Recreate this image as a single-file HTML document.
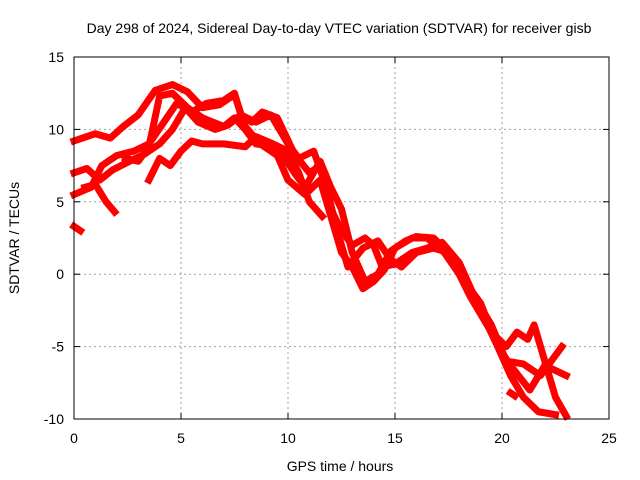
<!DOCTYPE html>
<html><head><meta charset="utf-8"><style>
body{margin:0;background:#fff}
svg{display:block;font-family:"Liberation Sans",sans-serif}
</style></head><body>
<svg id="c" width="640" height="480">
<rect width="640" height="480" fill="#fff"/>
<g id="grid"></g><g id="marks"></g><g id="axes"></g>
<text x="339" y="33" font-size="14" text-anchor="middle">Day 298 of 2024, Sidereal Day-to-day VTEC variation (SDTVAR) for receiver gisb</text>
<text x="340" y="471" font-size="14" text-anchor="middle">GPS time / hours</text>
<text transform="translate(19,238) rotate(-90)" font-size="14" text-anchor="middle">SDTVAR / TECUs</text>
</svg>
<script>
const xTicks=[0,5,10,15,20,25];
const yTicks=[-10,-5,0,5,10,15];
const track1=[[0,9.2],[1,9.7],[1.7,9.4],[2.3,10.2],[3,11],[3.8,12.7],[4.6,13.1],[5.3,12.6],[6,11.5],[6.8,11.7],[7.5,12.4],[8,10.2],[8.7,9],[9.5,8.2],[10,6.5],[10.8,5.5],[11.5,6.5],[12,4],[12.5,1.5],[13,0.5],[13.5,-1],[14,-0.5],[14.5,0.3],[15,1.8],[15.8,2.5],[16.5,2.5],[17.3,1.5],[18,0],[19,-2],[19.8,-5],[20.4,-7],[21,-8.5],[21.7,-9.5],[22.5,-9.7]];
const track2=[[0,5.5],[0.8,6],[1.3,7.5],[2,8.2],[2.8,8.5],[3.5,9],[4.2,10.5],[4.8,11.8],[5.5,11.2],[6.2,11.8],[7,12],[7.5,12.5],[7.8,11],[8.5,10.5],[9.2,11],[10,9],[10.5,8],[11.2,8.5],[11.8,6],[12.3,3],[12.8,0.5],[13.5,1.8],[14.2,2.3],[14.8,1],[15.3,0.5],[16,1.5],[16.8,1.8],[17.5,1.5],[18.5,-1],[19.5,-3.5],[20.2,-6],[21,-6.2],[21.8,-7],[22.8,-5]];
const track3=[[0,7],[0.6,7.3],[1.2,6.5],[1.8,7.2],[2.6,7.8],[3.3,8.3],[4,9],[4.6,10],[5.2,11.5],[5.8,10.5],[6.6,10],[7.2,10.3],[7.8,11],[8.3,10.5],[8.8,11.2],[9.5,10.8],[10.3,8.3],[11,7],[11.5,7.5],[12,4.5],[12.5,3],[13,2],[13.6,2.5],[14,2],[14.4,0.5],[15,0.7],[15.8,1.5],[16.5,1.8],[17.2,2.2],[18,0.8],[19,-2.5],[19.8,-5],[20.5,-6.5],[21.3,-8],[22,-6.3],[23,-7]];
const track4=[[2.4,8],[3,7.8],[3.5,8.8],[4,12.3],[4.6,12.5],[5.3,11.5],[6,10.8],[7,10.2],[7.5,10.8],[8,10],[8.5,9],[9.5,8.8],[10.3,7],[10.8,6],[11.5,7.8],[12,6],[12.5,4.5],[13,1.5],[13.6,-0.5],[14.2,0],[14.8,1.6],[15.5,2.3],[16,2.6],[16.8,2.5],[17.5,1.5],[18.5,-1.5],[19.5,-4],[20.2,-5],[20.7,-4],[21.2,-4.5],[21.5,-3.5],[22,-6],[22.5,-8.5],[23,-9.8]];
const track5=[[3.5,6.5],[4,8],[4.5,7.5],[5,8.5],[5.5,9.2],[6,9],[7,9],[8,8.8],[8.5,9.5],[9.3,9],[10,8.5],[10.5,7],[11,5],[11.6,4]];
const track6=[[0.5,6],[1,6.2],[1.5,5],[1.9,4.3]];
const track7=[[0,3.3],[0.3,3]];
const track8=[[20.4,-8.2],[20.6,-8.4]];
const tracks=[track1,track2,track3,track4,track5,track6,track7,track8];
const L=74,R=609,T=57,B=419;
const xs=h=>L+(h-0)/25*(R-L);
const ys=v=>B-(v+10)/25*(B-T);
const NS='http://www.w3.org/2000/svg';
const g=document.getElementById('grid'),m=document.getElementById('marks'),a=document.getElementById('axes');
function mk(p,tag,at){const e=document.createElementNS(NS,tag);for(const k in at)e.setAttribute(k,at[k]);p.appendChild(e);return e;}
xTicks.forEach(t=>{const x=xs(t);
 if(t>0&&t<25){const l=mk(g,'line',{x1:x,x2:x,y1:T,y2:B,stroke:'#a0a0a0','stroke-dasharray':'2,3'});
 
 }
 mk(a,'line',{x1:x,x2:x,y1:B,y2:B-6,stroke:'#000'});mk(a,'line',{x1:x,x2:x,y1:T,y2:T+6,stroke:'#000'});
 const tx=mk(a,'text',{x:x,y:B+24,'font-size':14,'text-anchor':'middle'});tx.textContent=t;
 
 });
yTicks.forEach(t=>{const y=ys(t);
 if(t>-10&&t<15){const l=mk(g,'line',{x1:L,x2:R,y1:y,y2:y,stroke:'#a0a0a0','stroke-dasharray':'2,3'});
 
 }
 mk(a,'line',{x1:L,x2:L+6,y1:y,y2:y,stroke:'#000'});mk(a,'line',{x1:R,x2:R-6,y1:y,y2:y,stroke:'#000'});
 const tx=mk(a,'text',{x:L-10,y:y+5,'font-size':14,'text-anchor':'end'});tx.textContent=t;
 
 });
const fr=mk(a,'rect',{x:L,y:T,width:R-L,height:B-T,fill:'none',stroke:'#000'});


tracks.forEach((tr,i)=>{const p=mk(m,'polyline',{points:tr.map(d=>xs(d[0])+','+ys(d[1])).join(' '),fill:'none',stroke:'#f00','stroke-width':7,'stroke-linejoin':'round','stroke-linecap':'square'});
 
 });
</script>
</body></html>
